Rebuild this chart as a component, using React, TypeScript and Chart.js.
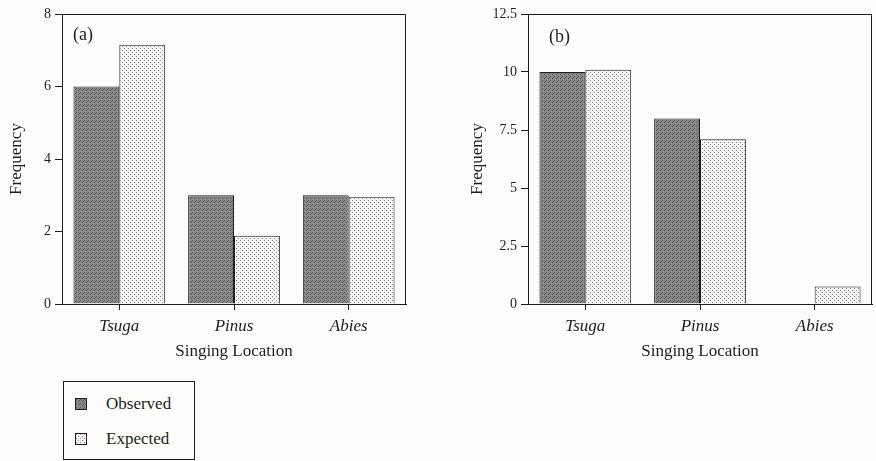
import React, { useEffect, useRef, useMemo } from 'react';
import { Chart, registerables } from 'chart.js';
Chart.register(...registerables);

const categories = ['Tsuga', 'Pinus', 'Abies'];
const observedA = [6, 3, 3];
const expectedA = [7.15, 1.88, 2.96];
const observedB = [10, 8, 0];
const expectedB = [10.1, 7.1, 0.75];
const yMaxA = 8;
const yStepA = 2;
const yMaxB = 12.5;
const yStepB = 2.5;
const seriesNames = ['Observed', 'Expected'];
const panelLabels = ['(a)', '(b)'];
const xTitle = 'Singing Location';
const yTitle = 'Frequency';

const FONT = "'Liberation Serif', 'Times New Roman', serif";
const INK = '#1e1e1e';
const CH = 365;

function makePatternCanvas(kind: string) {
  const c = document.createElement('canvas');
  c.width = 4;
  c.height = 4;
  const g = c.getContext('2d')!;
  if (kind === 'obs') {
    g.fillStyle = '#858585';
    g.fillRect(0, 0, 4, 4);
    g.fillStyle = '#5c5c5c';
    g.fillRect(0, 0, 1, 1);
    g.fillRect(2, 2, 1, 1);
    g.fillRect(3, 1, 1, 1);
    g.fillStyle = '#9a9a9a';
    g.fillRect(1, 3, 1, 1);
  } else {
    g.fillStyle = '#f3f3f2';
    g.fillRect(0, 0, 4, 4);
    g.fillStyle = '#8e8e8e';
    g.fillRect(0, 0, 1, 1);
    g.fillRect(2, 2, 1, 1);
  }
  return c;
}

function Panel(props: {
  left: number;
  obs: number[];
  exp: number[];
  max: number;
  step: number;
  label: string;
  yAxisWidth: number;
  yTitlePad: number;
  padRight: number;
  labelDx: number;
  labelDy: number;
}) {
  const ref = useRef<HTMLCanvasElement>(null);
  useEffect(() => {
    const ctx = ref.current!.getContext('2d')!;
    const obsPat = ctx.createPattern(makePatternCanvas('obs'), 'repeat')!;
    const expPat = ctx.createPattern(makePatternCanvas('exp'), 'repeat')!;
    const framePlugin = {
      id: 'frame',
      afterDraw(chart: any) {
        const { ctx: c, chartArea: a } = chart;
        c.save();
        c.strokeStyle = INK;
        c.lineWidth = 1;
        c.beginPath();
        c.moveTo(a.left, a.top + 0.5);
        c.lineTo(a.right - 0.5, a.top + 0.5);
        c.lineTo(a.right - 0.5, a.bottom);
        c.stroke();
        c.fillStyle = INK;
        c.font = `18px ${FONT}`;
        c.textBaseline = 'middle';
        c.textAlign = 'left';
        c.fillText(props.label, a.left + props.labelDx, a.top + props.labelDy);
        c.restore();
      },
    };
    const chart = new Chart(ctx, {
      type: 'bar',
      data: {
        labels: categories,
        datasets: [
          {
            label: seriesNames[0],
            data: props.obs,
            backgroundColor: obsPat as any,
            borderColor: INK,
            borderWidth: 1,
            categoryPercentage: 0.8,
            barPercentage: 1.0,
          },
          {
            label: seriesNames[1],
            data: props.exp,
            backgroundColor: expPat as any,
            borderColor: INK,
            borderWidth: 1,
            categoryPercentage: 0.8,
            barPercentage: 1.0,
          },
        ],
      },
      options: {
        animation: false,
        responsive: false,
        maintainAspectRatio: false,
        layout: { padding: { top: 14, right: props.padRight, left: 0, bottom: 0 } },
        plugins: { legend: { display: false }, tooltip: { enabled: false } },
        scales: {
          x: {
            type: 'category',
            offset: true,
            grid: {
              display: true,
              offset: false,
              drawOnChartArea: false,
              drawTicks: true,
              tickLength: 6,
              color: INK,
              lineWidth: 1,
            },
            border: { display: true, color: INK, width: 1 },
            ticks: {
              color: INK,
              font: { family: FONT, size: 17, style: 'italic' },
              padding: 6,
              maxRotation: 0,
            },
            title: {
              display: true,
              text: xTitle,
              color: INK,
              font: { family: FONT, size: 17 },
              padding: { top: 0, bottom: 3 },
            },
            afterFit: (s: any) => {
              s.height = CH - 304;
            },
          },
          y: {
            min: 0,
            max: props.max,
            ticks: {
              stepSize: props.step,
              color: INK,
              font: { family: FONT, size: 14 },
              padding: 4,
            },
            grid: {
              display: true,
              drawOnChartArea: false,
              drawTicks: true,
              tickLength: 7,
              color: INK,
              lineWidth: 1,
            },
            border: { display: true, color: INK, width: 1 },
            title: {
              display: true,
              text: yTitle,
              color: INK,
              font: { family: FONT, size: 17 },
              padding: { top: props.yTitlePad, bottom: 0 },
            },
            afterFit: (s: any) => {
              s.width = props.yAxisWidth;
            },
          },
        },
      } as any,
      plugins: [framePlugin],
    });
    return () => chart.destroy();
  }, []);
  return (
    <canvas
      ref={ref}
      width={438}
      height={CH}
      style={{ position: 'absolute', left: props.left, top: 0, width: 438, height: CH }}
    />
  );
}

function Legend() {
  const urls = useMemo(
    () => [makePatternCanvas('obs').toDataURL(), makePatternCanvas('exp').toDataURL()],
    []
  );
  const rows = [17, 52];
  return (
    <div
      style={{
        position: 'absolute',
        left: 63,
        top: 381,
        width: 132,
        height: 79,
        boxSizing: 'border-box',
        border: `1px solid ${INK}`,
        fontFamily: FONT,
        fontSize: 17,
        color: INK,
      }}
    >
      {seriesNames.map((name, i) => (
        <React.Fragment key={name}>
          <div
            style={{
              position: 'absolute',
              left: 11,
              top: rows[i] - 1,
              width: 12,
              height: 12,
              boxSizing: 'border-box',
              border: `1px solid ${INK}`,
              backgroundImage: `url(${urls[i]})`,
            }}
          />
          <div
            style={{
              position: 'absolute',
              left: 42,
              top: rows[i] - 6,
              height: 22,
              lineHeight: '22px',
              whiteSpace: 'nowrap',
            }}
          >
            {name}
          </div>
        </React.Fragment>
      ))}
    </div>
  );
}

export default function App() {
  useEffect(() => {
    document.body.style.margin = '0';
    document.body.style.background = '#fdfcfa';
  }, []);
  return (
    <div style={{ position: 'relative', width: 876, height: 461, background: '#fdfcfa', overflow: 'hidden' }}>
      <Panel
        left={0}
        obs={observedA}
        exp={expectedA}
        max={yMaxA}
        step={yStepA}
        label={panelLabels[0]}
        yAxisWidth={62}
        yTitlePad={6}
        padRight={32}
        labelDx={11}
        labelDy={21}
      />
      <Panel
        left={438}
        obs={observedB}
        exp={expectedB}
        max={yMaxB}
        step={yStepB}
        label={panelLabels[1]}
        yAxisWidth={90}
        yTitlePad={29}
        padRight={4}
        labelDx={21}
        labelDy={23}
      />
      <Legend />
    </div>
  );
}
